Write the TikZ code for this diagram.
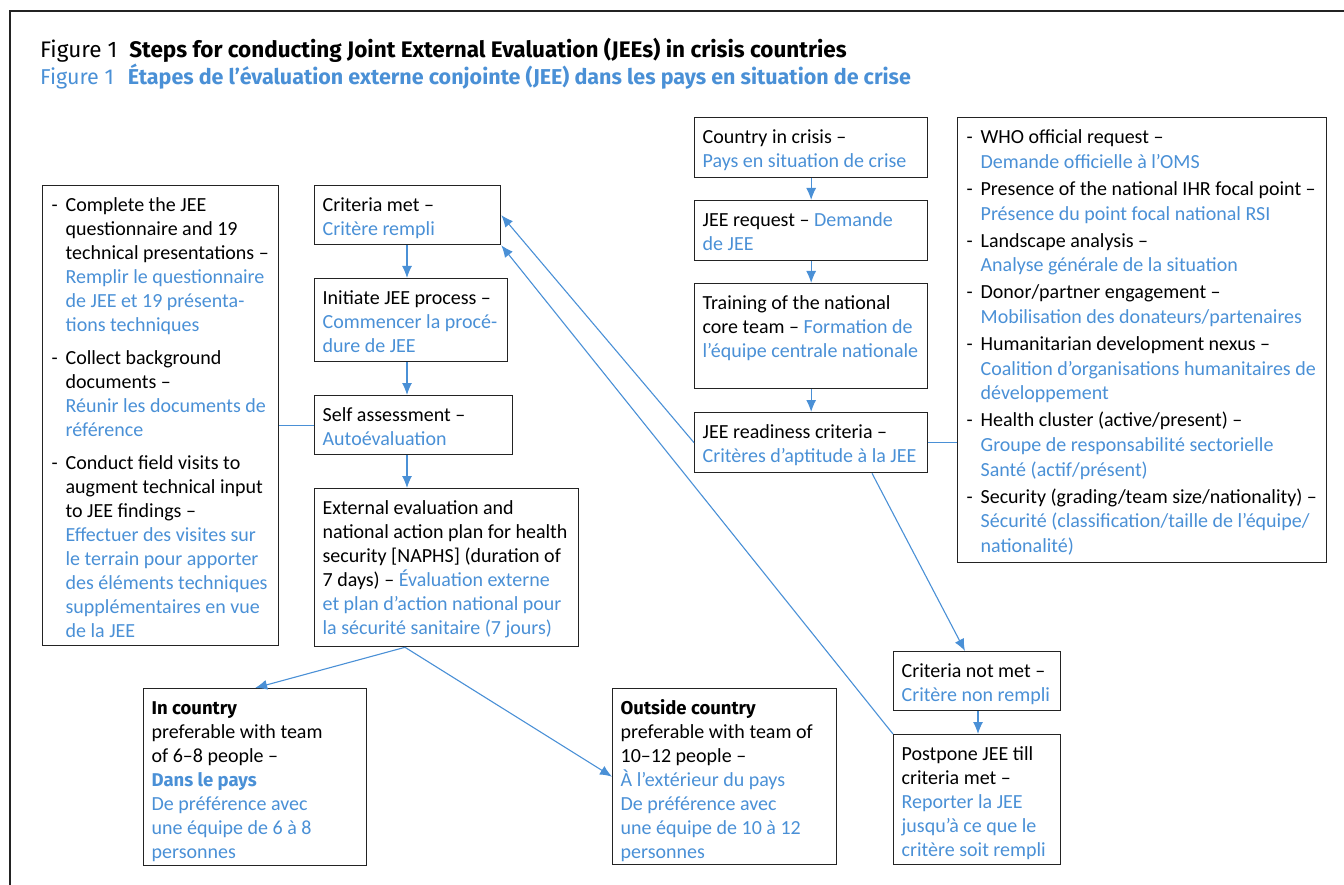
\documentclass[tikz,border=0pt]{standalone}
\usepackage{fontspec}
\setmainfont{Carlito}
\newfontfamily\fira{Fira Sans}
\usetikzlibrary{arrows.meta,calc}
\definecolor{jblue}{RGB}{74,144,214}
\definecolor{frame}{RGB}{35,35,35}
\newcommand\fr{\color{jblue}}
\newcommand\bb[1]{{\fira\bfseries\fontsize{18.5}{24}\selectfont #1}}
\newcommand\bul{\par\hangindent=14pt\hangafter=1\noindent\makebox[14pt][l]{-}\strut}
\newcommand\gap[1]{\par\vspace{#1pt}}
\newcommand\bxt[3]{\parbox[c][#2pt][t]{#1pt}{\raggedright\fontsize{20}{24}\selectfont #3}}
\newcommand\bxl[3]{\parbox[c][#2pt][t]{#1pt}{\raggedright\fontsize{20}{24.6}\selectfont #3}}
\tikzset{
  bx/.style={draw=frame, line width=1.3pt, inner xsep=8pt, inner ysep=9pt, anchor=north west, align=left},
  conn/.style={draw=jblue, line width=1.1pt},
  arr/.style={conn, -{Latex[length=12pt,width=10pt]}},
  ttl/.style={anchor=base west, inner sep=0},
}
\begin{document}
\begin{tikzpicture}[x=1pt,y=-1pt]
\useasboundingbox (0,0) rectangle (1344,885);
\draw[frame, line width=1.4pt] (1344,11) -- (10,11) -- (10,885);

\node[ttl, font=\fira\fontsize{22.5}{27}\selectfont] (t1) at (40,58) {Figure 1\hspace{12pt}\textbf{Steps for conducting Joint External Evaluation (JEEs) in crisis countries}};
\node[ttl, font=\fira\fontsize{21.5}{27}\selectfont, text=jblue] (t2) at (40,85) {Figure 1\hspace{14pt}\textbf{Étapes de l’évaluation externe conjointe (JEE) dans les pays en situation de crise}};

% left list
\node[bx, inner xsep=9pt] (A) at (42,185) {\bxt{218}{442}{%
\bul Complete the JEE\newline questionnaire and 19\newline technical presentations –\newline{\fr Remplir le questionnaire\newline de JEE et 19 présenta-\newline tions techniques}
\gap{9}\bul Collect background\newline documents –\newline{\fr Réunir les documents de\newline référence}
\gap{9}\bul Conduct field visits to\newline augment technical input\newline to JEE findings –\newline{\fr Effectuer des visites sur\newline le terrain pour apporter\newline des éléments techniques\newline supplémentaires en vue\newline de la JEE}}};

% middle column
\node[bx] (B) at (314,185) {\bxt{170}{41}{\strut Criteria met –\newline{\fr Critère rempli}}};
\node[bx] (C) at (314,278) {\bxt{177}{65}{\strut Initiate JEE process –\newline{\fr Commencer la procé-\newline dure de JEE}}};
\node[bx] (D) at (314,395) {\bxt{182}{41}{\strut Self assessment –\newline{\fr Autoévaluation}}};
\node[bx] (E) at (314,488) {\bxt{248}{140}{\strut External evaluation and\newline national action plan for health\newline security [NAPHS] (duration of\newline 7 days) – {\fr Évaluation externe\newline et plan d’action national pour\newline la sécurité sanitaire (7 jours)}}};

% bottom
\node[bx] (F) at (143,688) {\bxt{207}{159}{\strut\bb{In country}\newline preferable with team\newline of 6–8 people –\newline{\fr\bb{Dans le pays}\newline De préférence avec\newline une équipe de 6 à 8\newline personnes}}};
\node[bx] (G) at (612,688) {\bxt{208}{158}{\strut\bb{Outside country}\newline preferable with team of\newline 10–12 people –\newline{\fr À l’extérieur du pays\newline De préférence avec\newline une équipe de 10 à 12\newline personnes}}};

% right column
\node[bx] (H) at (694,117) {\bxt{217}{42}{\strut Country in crisis –\newline{\fr Pays en situation de crise}}};
\node[bx] (I) at (694,200) {\bxt{217}{42}{\strut JEE request – {\fr Demande\newline de JEE}}};
\node[bx] (J) at (694,283) {\bxt{217}{87}{\strut Training of the national\newline core team – {\fr Formation de\newline l’équipe centrale nationale}}};
\node[bx] (K) at (694,412) {\bxt{217}{42}{\strut JEE readiness criteria –\newline{\fr Critères d’aptitude à la JEE}}};

% criteria list
\node[bx, inner xsep=9pt] (L) at (957,117) {\bxl{351}{427}{%
\bul WHO official request –\newline{\fr Demande officielle à l’OMS}
\gap{2.5}\bul Presence of the national IHR focal point –\newline{\fr Présence du point focal national RSI}
\gap{2.5}\bul Landscape analysis –\newline{\fr Analyse générale de la situation}
\gap{2.5}\bul Donor/partner engagement –\newline{\fr Mobilisation des donateurs/partenaires}
\gap{2.5}\bul Humanitarian development nexus –\newline{\fr Coalition d’organisations humanitaires de\newline développement}
\gap{2.5}\bul Health cluster (active/present) –\newline{\fr Groupe de responsabilité sectorielle\newline Santé (actif/présent)}
\gap{2.5}\bul Security (grading/team size/nationality) –\newline{\fr Sécurité (classification/taille de l’équipe/\newline nationalité)}}};

\node[bx] (M) at (893,651) {\bxt{151}{41}{\strut Criteria not met –\newline{\fr Critère non rempli}}};
\node[bx] (N) at (893,734) {\bxt{151}{112}{\strut Postpone JEE till\newline criteria met –\newline{\fr Reporter la JEE\newline jusqu’à ce que le\newline critère soit rempli}}};

% connectors
\draw[arr] (H) -- (I);
\draw[arr] (I) -- (J);
\draw[arr] (J) -- (K);
\coordinate (bc) at ($(B.south west)+(93,0)$);
\draw[arr] (bc) -- (bc |- C.north);
\draw[arr] (bc |- C.south) -- (bc |- D.north);
\draw[arr] (bc |- D.south) -- (bc |- E.north);
\draw[conn] (A.east |- D.west) -- (D.west);
\draw[conn] (K.east) -- (K.east -| L.west);
\draw[arr] (K.west) -- (B.east);
\draw[arr] (N.north west) -- (B.south east);
\coordinate (ks) at ($(K.south west)+(178,0)$);
\coordinate (mn) at ($(M.north west)+(72,0)$);
\draw[arr] (ks) -- (mn);
\coordinate (ms) at ($(M.south west)+(85,0)$);
\draw[arr] (ms) -- (ms |- N.north);
\coordinate (es) at ($(E.south west)+(91,0)$);
\draw[arr] (es) -- (F.north);
\draw[arr] (es) -- (G.west);
\end{tikzpicture}
\end{document}
